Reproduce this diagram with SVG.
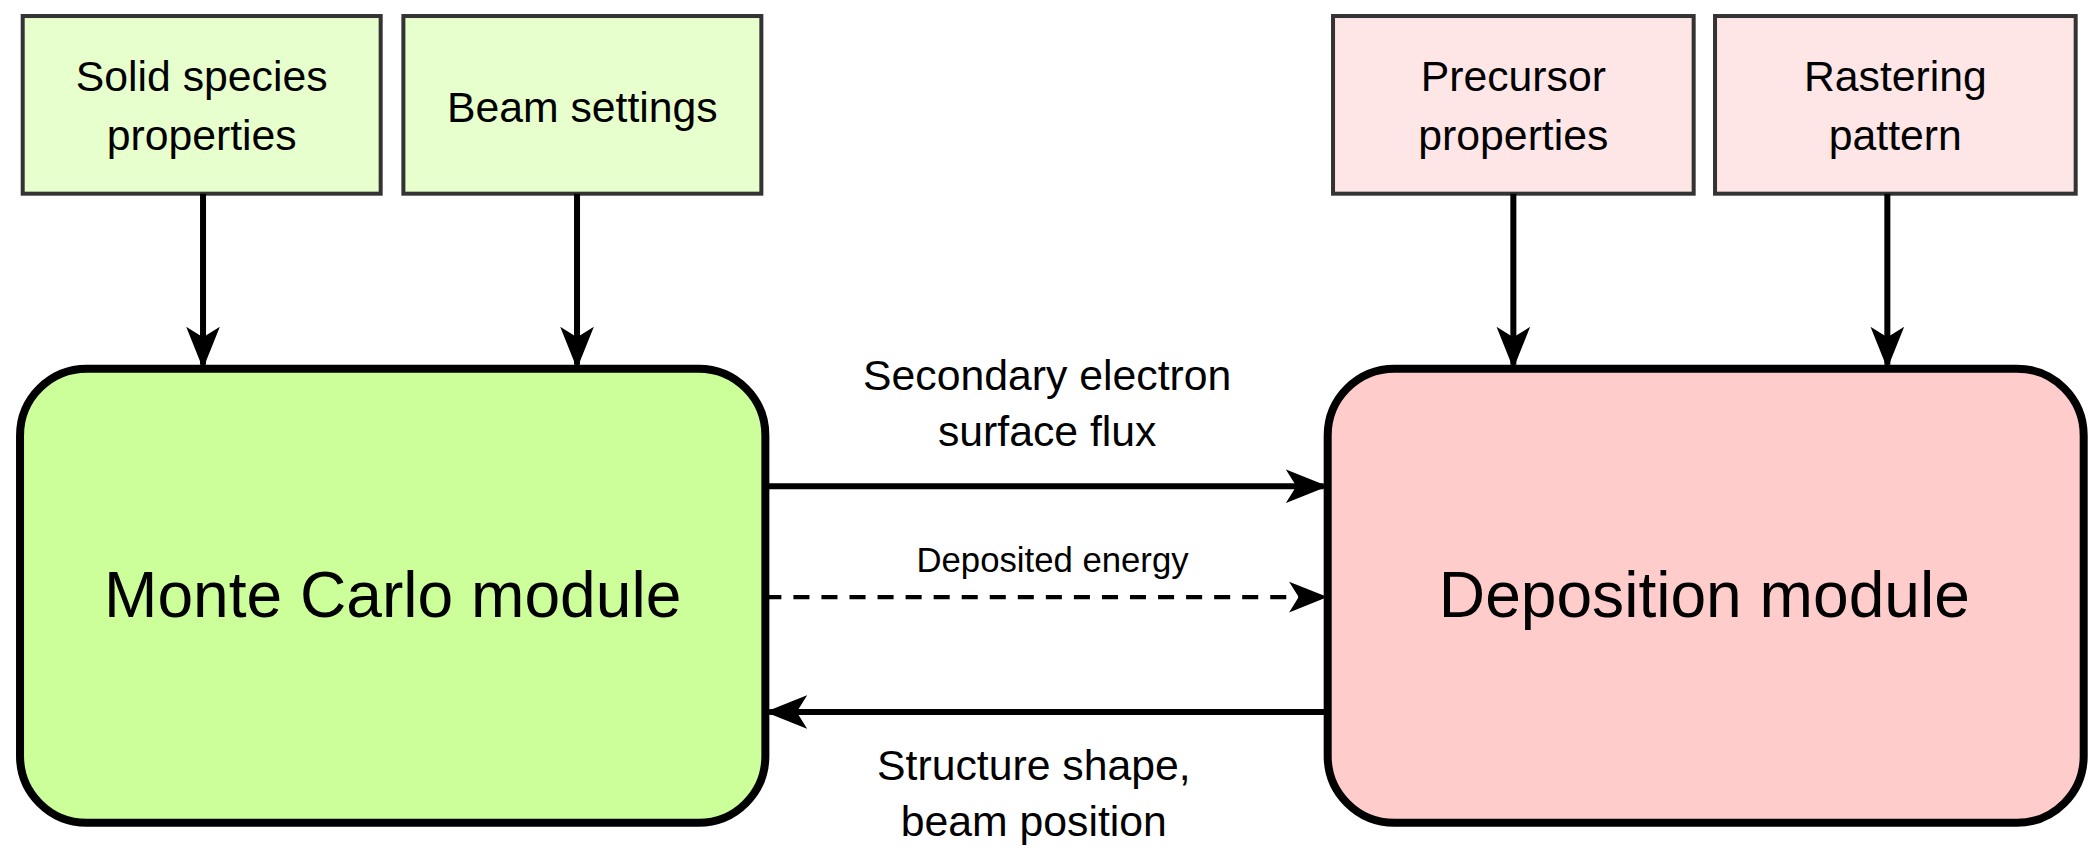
<svg xmlns="http://www.w3.org/2000/svg" width="2097" height="857" viewBox="0 0 2097 857">
<defs>
<style>
text{font-family:"Liberation Sans",Arial,sans-serif;fill:#000;text-anchor:middle}
.in{stroke:#333;stroke-width:3}
.g{fill:#e6ffcc}.p{fill:#ffe6e6}
.big{stroke:#000;stroke-width:6}
.c{stroke:#000;stroke-width:4.5;fill:none}
.t{font-size:32px}.s{font-size:26px}.L{font-size:48px}
</style>
<marker id="a" viewBox="0 0 10 10" refX="9" refY="5" markerWidth="7" markerHeight="7" orient="auto" markerUnits="strokeWidth"><path d="M0,1L10,5L0,9L2.5,5z" fill="#000"/></marker>
<marker id="b" viewBox="0 0 10 10" refX="9" refY="5" markerWidth="9" markerHeight="9" orient="auto" markerUnits="strokeWidth"><path d="M0,1L10,5L0,9L2.5,5z" fill="#000"/></marker>
</defs>
<rect width="2097" height="857" fill="#fff"/>
<g transform="scale(1.3357)">
<g id="n1"><rect class="in g" x="17" y="12" width="268" height="133"/><text class="t" x="151" y="68">Solid species</text><text class="t" x="151" y="112">properties</text></g>
<g id="n2"><rect class="in g" x="302" y="12" width="268" height="133"/><text class="t" x="436" y="91">Beam settings</text></g>
<g id="n3"><rect class="in p" x="998" y="12" width="270" height="133"/><text class="t" x="1133" y="68">Precursor</text><text class="t" x="1133" y="112">properties</text></g>
<g id="n4"><rect class="in p" x="1284" y="12" width="270" height="133"/><text class="t" x="1419" y="68">Rastering</text><text class="t" x="1419" y="112">pattern</text></g>
<g id="mc"><rect class="big" x="15" y="276" width="558" height="340" rx="50" fill="#ccff99"/><text class="L" x="294" y="462">Monte Carlo module</text></g>
<g id="dep"><rect class="big" x="994" y="276" width="566" height="340" rx="50" fill="#ffcccc"/><text class="L" x="1276" y="462">Deposition module</text></g>
<g id="connectors">
<line class="c" x1="152" y1="145" x2="152" y2="273" marker-end="url(#a)"/>
<line class="c" x1="432" y1="145" x2="432" y2="273" marker-end="url(#a)"/>
<line class="c" x1="1133" y1="145" x2="1133" y2="273" marker-end="url(#a)"/>
<line class="c" x1="1413" y1="145" x2="1413" y2="273" marker-end="url(#a)"/>
<line class="c" x1="573" y1="364" x2="991" y2="364" marker-end="url(#a)"/>
<line class="c" x1="573" y1="447" x2="991" y2="447" stroke-dasharray="12,9" style="stroke-width:3.2" marker-end="url(#b)"/>
<line class="c" x1="994" y1="533" x2="576" y2="533" marker-end="url(#a)"/>
<text class="t" x="784" y="292">Secondary electron</text>
<text class="t" x="784" y="334">surface flux</text>
<text class="s" x="788" y="428">Deposited energy</text>
<text class="t" x="774" y="584">Structure shape,</text>
<text class="t" x="774" y="626">beam position</text>
</g>
</g>
</svg>
